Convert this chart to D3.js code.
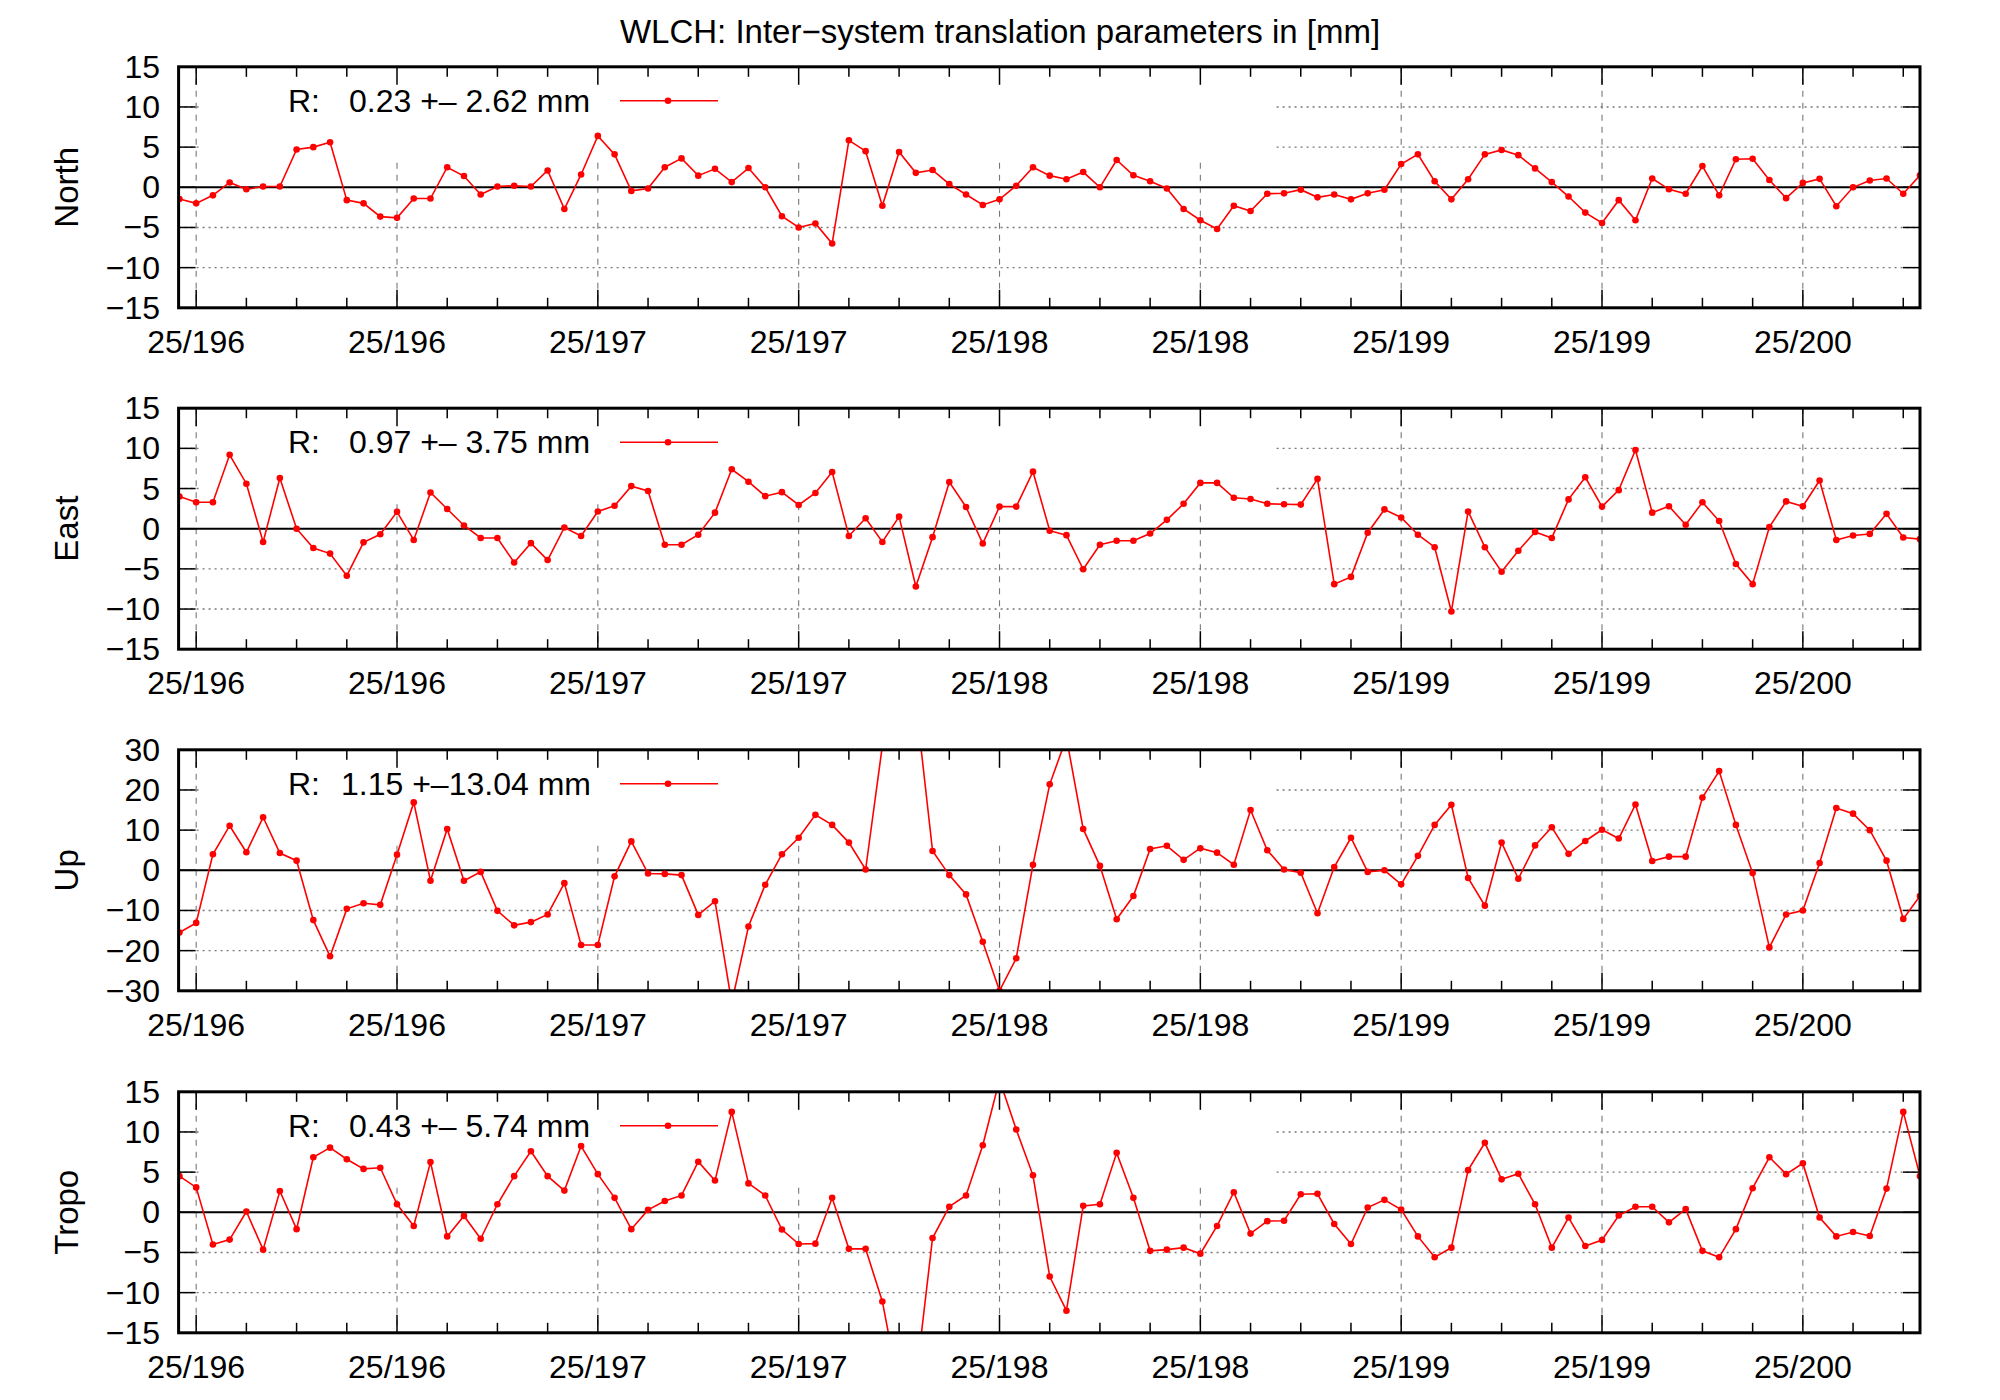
<!DOCTYPE html>
<html>
<head>
<meta charset="utf-8">
<script src="https://cdn.jsdelivr.net/npm/d3@7"></script>
<style>
body{margin:0;background:#fff;}
text{font-family:"Liberation Sans",Arial,sans-serif;}
</style>
</head>
<body>
<div id="chart"></div>
<script>
// epoch index 0..104, one value per point
var north = [-1.45,-2,-1,0.6,-0.25,0.1,0.1,4.7,5,5.6,-1.6,-2,-3.65,-3.8,-1.4,-1.4,2.5,1.4,-0.9,0.1,
  0.2,0.1,2.1,-2.7,1.6,6.4,4.1,-0.45,-0.15,2.5,3.6,1.45,2.3,0.65,2.4,0,-3.6,-5,-4.5,-7,
  5.85,4.5,-2.3,4.4,1.8,2.15,0.4,-0.9,-2.2,-1.5,0.2,2.5,1.45,1.0,1.9,0,3.4,1.5,0.75,-0.15,
  -2.7,-4.1,-5.2,-2.3,-2.95,-0.8,-0.75,-0.3,-1.25,-0.9,-1.5,-0.75,-0.3,2.9,4.1,0.75,-1.5,1.0,4.1,4.65,
  4.0,2.35,0.65,-1.15,-3.15,-4.45,-1.6,-4.1,1.1,-0.25,-0.8,2.65,-1,3.5,3.55,0.9,-1.35,0.55,1.05,-2.35,
  0,0.85,1.1,-0.8,1.5];
var east = [4,3.3,3.3,9.2,5.6,-1.65,6.3,0,-2.4,-3.1,-5.85,-1.7,-0.7,2.1,-1.4,4.5,2.45,0.4,-1.15,-1.15,
  -4.2,-1.8,-3.9,0.15,-0.9,2.15,2.85,5.3,4.7,-2,-2,-0.75,2,7.4,5.85,4.05,4.55,2.95,4.45,7.05,
  -0.9,1.3,-1.65,1.5,-7.2,-1.05,5.8,2.7,-1.85,2.75,2.75,7.1,-0.25,-0.8,-5.05,-2,-1.5,-1.5,-0.6,1.1,
  3.1,5.7,5.7,3.85,3.7,3.1,3.05,3,6.2,-6.9,-6,-0.5,2.4,1.4,-0.75,-2.3,-10.3,2.15,-2.3,-5.35,
  -2.75,-0.4,-1.15,3.65,6.4,2.75,4.8,9.8,2,2.8,0.5,3.3,0.95,-4.4,-6.9,0.2,3.4,2.8,6,-1.4,
  -0.85,-0.65,1.85,-1.1,-1.3];
var up = [-15.5,-13.1,4,11.1,4.5,13.2,4.3,2.4,-12.4,-21.4,-9.6,-8.2,-8.6,3.9,16.9,-2.6,10.3,-2.6,-0.4,-10.1,
  -13.7,-12.9,-11,-3.2,-18.6,-18.6,-1.5,7.2,-0.8,-0.9,-1.2,-11.1,-7.7,-33,-14,-3.6,4,8.1,13.8,11.3,
  6.9,0.2,31,60,42,4.8,-1.2,-6,-17.8,-30,-21.9,1.4,21.4,33,10.3,1.1,-12.2,-6.4,5.3,6.1,
  2.6,5.5,4.4,1.4,15,5,0.2,-0.6,-10.7,0.8,8.1,-0.4,0,-3.5,3.6,11.3,16.3,-1.9,-8.8,6.9,
  -2.1,6.2,10.7,4.1,7.3,10.1,7.9,16.4,2.3,3.4,3.4,18.1,24.7,11.3,-0.7,-19.2,-11,-10,1.8,15.5,
  14.1,10,2.4,-12.1,-6.4];
var tropo = [4.5,3.1,-4,-3.4,0.1,-4.65,2.65,-2.1,6.85,8.05,6.6,5.4,5.55,1,-1.7,6.25,-3,-0.45,-3.3,1,
  4.5,7.6,4.5,2.7,8.25,4.75,1.8,-2.1,0.3,1.4,2.1,6.3,3.95,12.5,3.6,2.1,-2.15,-3.95,-3.9,1.8,
  -4.55,-4.55,-11.1,-22,-21,-3.2,0.7,2.1,8.35,16.5,10.3,4.6,-8,-12.25,0.8,1,7.4,1.8,-4.8,-4.65,
  -4.4,-5.15,-1.7,2.5,-2.65,-1.1,-1.05,2.25,2.3,-1.45,-3.95,0.6,1.55,0.35,-3,-5.6,-4.4,5.25,8.65,4.1,
  4.8,1,-4.4,-0.65,-4.2,-3.45,-0.4,0.7,0.7,-1.25,0.4,-4.8,-5.6,-2.1,3,6.85,4.75,6.1,-0.65,-3,
  -2.45,-2.95,2.95,12.5,4.5];

var panelNames = ["North","East","Up","Tropo"];
var panelSeries = [north, east, up, tropo];
var panelLimits = [15, 15, 30, 15];
var panelSteps = [5, 5, 10, 5];
var legendTexts = ["0.23 +\u2013 2.62 mm","0.97 +\u2013 3.75 mm","1.15 +\u201313.04 mm","0.43 +\u2013 5.74 mm"];
var xTickLabels = ["25/196","25/196","25/197","25/197","25/198","25/198","25/199","25/199","25/200"];

var W = 2000, H = 1400;
var left = 178.6, right = 1920;
var panelTops = [66.8, 408.2, 749.8, 1091.8];
var panelH = 241;
var red = "#ff0000";

var svg = d3.select("#chart").append("svg").attr("width", W).attr("height", H);

svg.append("text").attr("x", 1000).attr("y", 43).attr("text-anchor","middle")
  .attr("font-size", 33).text("WLCH: Inter\u2212system translation parameters in [mm]");

var x = d3.scaleLinear().domain([-0.05, 104]).range([left, right]);
var majorIdx = d3.range(1, 104, 12);
var minorIdx = d3.range(1, 105, 3).filter(function(i){ return (i-1) % 12 !== 0; });

panelNames.forEach(function(name, p){
  var top = panelTops[p], bot = top + panelH, lim = panelLimits[p];
  var y = d3.scaleLinear().domain([-lim, lim]).range([bot, top]);
  var g = svg.append("g");
  var yTicks = d3.range(-lim, lim + 0.001, panelSteps[p]);

  // grid
  yTicks.filter(function(v){ return v !== -lim && v !== lim && v !== 0; }).forEach(function(v){
    g.append("line").attr("x1", left).attr("x2", right).attr("y1", y(v)).attr("y2", y(v))
      .attr("stroke","#777").attr("stroke-width",1.4).attr("stroke-dasharray","2,4");
  });
  majorIdx.forEach(function(i){
    g.append("line").attr("x1", x(i)).attr("x2", x(i)).attr("y1", top).attr("y2", bot)
      .attr("stroke","#777").attr("stroke-width",1.1).attr("stroke-dasharray","6,6");
  });

  // opaque key box
  g.append("rect").attr("x", 199).attr("y", top + 2).attr("width", 1275 - 199)
    .attr("height", panelH * 0.37).attr("fill", "#fff");

  // zero line
  g.append("line").attr("x1", left).attr("x2", right).attr("y1", y(0)).attr("y2", y(0))
    .attr("stroke","#000").attr("stroke-width",2);

  // ticks
  yTicks.forEach(function(v){
    g.append("line").attr("x1", left).attr("x2", left + 17).attr("y1", y(v)).attr("y2", y(v)).attr("stroke","#000").attr("stroke-width",1.5);
    g.append("line").attr("x1", right).attr("x2", right - 17).attr("y1", y(v)).attr("y2", y(v)).attr("stroke","#000").attr("stroke-width",1.5);
    g.append("text").attr("x", 160).attr("y", y(v) + 11).attr("text-anchor","end")
      .attr("font-size", 32).text(v < 0 ? "\u2212" + Math.abs(v) : v);
  });
  majorIdx.forEach(function(i, k){
    g.append("line").attr("x1", x(i)).attr("x2", x(i)).attr("y1", bot).attr("y2", bot - 18).attr("stroke","#000").attr("stroke-width",1.5);
    g.append("line").attr("x1", x(i)).attr("x2", x(i)).attr("y1", top).attr("y2", top + 18).attr("stroke","#000").attr("stroke-width",1.5);
    g.append("text").attr("x", x(i)).attr("y", bot + 45).attr("text-anchor","middle")
      .attr("font-size", 32).text(xTickLabels[k]);
  });
  minorIdx.forEach(function(i){
    g.append("line").attr("x1", x(i)).attr("x2", x(i)).attr("y1", bot).attr("y2", bot - 10).attr("stroke","#000").attr("stroke-width",1.5);
    g.append("line").attr("x1", x(i)).attr("x2", x(i)).attr("y1", top).attr("y2", top + 10).attr("stroke","#000").attr("stroke-width",1.5);
  });

  // y label
  g.append("text").attr("transform", "translate(78," + (top + panelH / 2) + ") rotate(-90)")
    .attr("text-anchor","middle").attr("font-size", 33).text(name);

  // legend
  var ly = top + 34;
  g.append("text").attr("x", 288).attr("y", ly + 11).attr("font-size", 32).text("R:");
  g.append("text").attr("x", p === 2 ? 341 : 349).attr("y", ly + 11).attr("font-size", 32).text(legendTexts[p]);
  g.append("line").attr("x1", 620).attr("x2", 718).attr("y1", ly).attr("y2", ly).attr("stroke", red).attr("stroke-width",1.6);
  g.append("circle").attr("cx", 668).attr("cy", ly).attr("r", 3.3).attr("fill", red);

  // series, clipped to plot area
  var clipId = "clip" + p;
  svg.append("clipPath").attr("id", clipId).append("rect")
    .attr("x", left).attr("y", top).attr("width", right - left).attr("height", panelH);
  var data = panelSeries[p].map(function(v, i){ return [i, v]; });
  var sg = g.append("g").attr("clip-path", "url(#" + clipId + ")");
  sg.append("path").datum(data).attr("fill","none").attr("stroke", red).attr("stroke-width",1.6)
    .attr("d", d3.line().x(function(d){ return x(d[0]); }).y(function(d){ return y(d[1]); }));
  sg.selectAll("circle").data(data).enter().append("circle")
    .attr("cx", function(d){ return x(d[0]); }).attr("cy", function(d){ return y(d[1]); })
    .attr("r", 3.3).attr("fill", red);

  // border
  g.append("rect").attr("x", left).attr("y", top).attr("width", right - left).attr("height", panelH)
    .attr("fill","none").attr("stroke","#000").attr("stroke-width",3);
});
</script>
</body>
</html>
